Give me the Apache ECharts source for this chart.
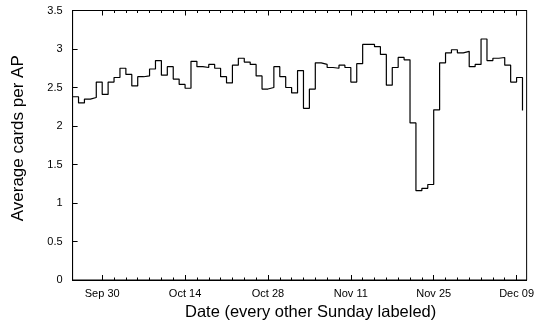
<!DOCTYPE html>
<html>
<head>
<meta charset="utf-8">
<script src="https://cdn.jsdelivr.net/npm/echarts@6/dist/echarts.min.js"></script>
<style>html,body{margin:0;padding:0;background:#fff;}#c{width:537px;height:334px;}</style>
</head>
<body>
<div id="c"></div>
<script>
// Daily values starting Sep 25 (day 0)
const startLabel = 'Sep 25';
const values = [
  2.38, 2.30, 2.35, 2.37, 2.57, 2.41, 2.57, 2.63, 2.75, 2.67,
  2.52, 2.64, 2.65, 2.74, 2.85, 2.66, 2.77, 2.61, 2.54, 2.49,
  2.84, 2.77, 2.76, 2.80, 2.75, 2.64, 2.56, 2.79, 2.88, 2.83,
  2.80, 2.65, 2.48, 2.50, 2.77, 2.64, 2.50, 2.43, 2.72, 2.23,
  2.48, 2.82, 2.80, 2.76, 2.75, 2.79, 2.76, 2.57, 2.81, 3.06,
  3.06, 3.03, 2.93, 2.53, 2.76, 2.89, 2.86, 2.04, 1.16, 1.19,
  1.24, 2.21, 2.82, 2.95, 2.99, 2.95, 2.97, 2.77, 2.80, 3.13,
  2.85, 2.88, 2.89, 2.79, 2.57, 2.63, 2.20
];
// Labeled Sundays: day offsets from Sep 25 and their labels
const tickDays = [5, 19, 33, 47, 61, 75];
const tickLabels = ['Sep 30', 'Oct 14', 'Oct 28', 'Nov 11', 'Nov 25', 'Dec 09'];
const minorDays = [];
for (let d = 5; d <= 75; d += 2) minorDays.push(d);
const xMax = 76.7;

const data = values.map((v, i) => [i, v]);
const font = 'Liberation Sans, Arial, Helvetica, sans-serif';

function xAx(pos, custom, len, labels, extra) {
  return Object.assign({
    type: 'value', position: pos, min: 0, max: xMax,
    axisLine: { show: true, onZero: false, lineStyle: { color: '#000', width: 1 } },
    splitLine: { show: false },
    axisTick: { show: true, inside: true, length: len, customValues: custom, lineStyle: { color: '#000', width: 1 } },
    axisLabel: labels ? {
      show: true, customValues: tickDays, margin: 8, color: '#000', fontSize: 11, fontFamily: font,
      formatter: v => { const k = tickDays.indexOf(Math.round(v)); return k >= 0 ? tickLabels[k] : ''; }
    } : { show: false }
  }, extra || {});
}

const chart = echarts.init(document.getElementById('c'), null, { renderer: 'canvas' });
chart.setOption({
  animation: false,
  backgroundColor: '#fff',
  grid: { left: 72.6, right: 9, top: 10.5, bottom: 54, show: true, borderColor: '#000', borderWidth: 1 },
  xAxis: [
    xAx('bottom', tickDays, 5, true, {
      name: 'Date (every other Sunday labeled)', nameLocation: 'middle', nameGap: 22,
      nameTextStyle: { color: '#000', fontSize: 16.5, fontFamily: font, padding: [0, 0, 0, 22] }
    }),
    xAx('bottom', minorDays, 2.5, false),
    xAx('top', tickDays, 5, false),
    xAx('top', minorDays, 2.5, false)
  ],
  yAxis: {
    type: 'value', min: 0, max: 3.5, interval: 0.5,
    name: 'Average cards per AP', nameLocation: 'middle', nameGap: 46,
    nameTextStyle: { color: '#000', fontSize: 17, fontFamily: font, padding: [0, 0, 0, 14] },
    axisLine: { show: true, lineStyle: { color: '#000', width: 1 } },
    axisTick: { show: true, inside: true, length: 5, lineStyle: { color: '#000' } },
    splitLine: { show: false },
    axisLabel: { color: '#000', fontSize: 11, fontFamily: font, margin: 10 }
  },
  series: [{
    type: 'line', step: 'end', xAxisIndex: 0, data: data,
    showSymbol: false, symbol: 'none',
    lineStyle: { color: '#000', width: 1.2 }
  }]
});
</script>
</body>
</html>
